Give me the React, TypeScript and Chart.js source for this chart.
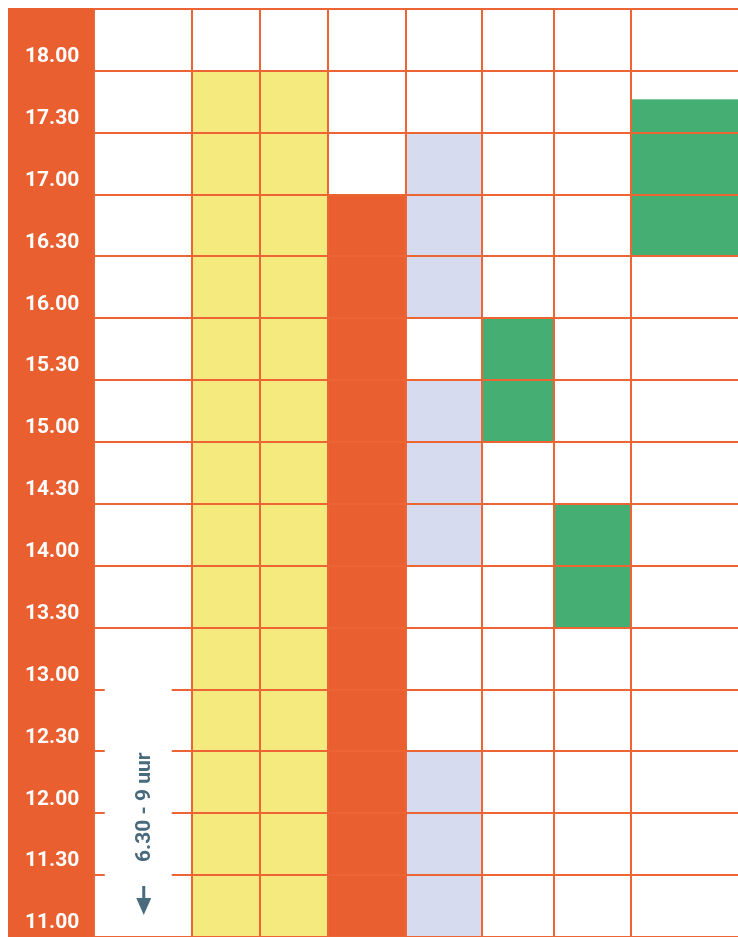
import React, { useEffect, useLayoutEffect, useRef } from 'react';
import { Chart, registerables } from 'chart.js';

Chart.register(...registerables);

// ---- data ----
const timeLabels = [
  '11.00', '11.30', '12.00', '12.30', '13.00', '13.30', '14.00', '14.30',
  '15.00', '15.30', '16.00', '16.30', '17.00', '17.30', '18.00',
];
const dayStart = 11;
const dayEnd = 18.5;
const hourStep = 0.5;

// blocks: [column index, from (hour), to (hour)]
const yellowBlocks: [number, number, number][] = [
  [1, 11, 18],
  [2, 11, 18],
];
const orangeBlocks: [number, number, number][] = [[3, 11, 17]];
const lavenderBlocks: [number, number, number][] = [
  [4, 11, 12.5],
  [4, 14, 15.5],
  [4, 16, 17.5],
];
const greenBlocks: [number, number, number][] = [
  [5, 15, 16],
  [6, 13.5, 14.5],
  [7, 16.5, 17.77],
];
const noteText = '6.30 - 9 uur';

// ---- layout / style ----
const CANVAS_W = 730;
const CANVAS_H = 929;
const columnWidths = [97.5, 68.5, 68, 77.5, 76.2, 71.8, 77, 107.5];
const columnEdges = columnWidths.reduce<number[]>((acc, w) => {
  acc.push(acc[acc.length - 1] + w);
  return acc;
}, [0]);

const ORANGE = '#EA5F2F';
const LINE = '#EE6535';
const YELLOW = '#F4EA7E';
const LAVENDER = '#D6DBF0';
const GREEN = '#45AE72';
const SLATE = '#4A6B7D';

const blockGroups = [
  { color: YELLOW, blocks: yellowBlocks },
  { color: ORANGE, blocks: orangeBlocks },
  { color: LAVENDER, blocks: lavenderBlocks },
  { color: GREEN, blocks: greenBlocks },
];

const schedulePlugin = {
  id: 'schedule',
  beforeDraw(chart: any) {
    const { ctx, chartArea, height } = chart;
    ctx.save();
    ctx.fillStyle = ORANGE;
    ctx.fillRect(0, 0, chartArea.left, height);
    ctx.restore();
  },
  beforeDatasetsDraw(chart: any) {
    const { ctx } = chart;
    const { x, y } = chart.scales;
    ctx.save();
    for (const g of blockGroups) {
      ctx.fillStyle = g.color;
      for (const [col, from, to] of g.blocks) {
        const x0 = x.getPixelForValue(columnEdges[col]);
        const x1 = x.getPixelForValue(columnEdges[col + 1]);
        const y0 = y.getPixelForValue(to);
        const y1 = y.getPixelForValue(from);
        ctx.fillRect(x0, y0, x1 - x0, y1 - y0);
      }
    }
    ctx.restore();
  },
  afterDraw(chart: any) {
    const { ctx } = chart;
    const { x, y } = chart.scales;
    const cx = (x.getPixelForValue(columnEdges[0]) + x.getPixelForValue(columnEdges[1])) / 2;
    const bottom = y.getPixelForValue(dayStart);
    ctx.save();
    // white label box interrupting the grid lines
    ctx.fillStyle = '#ffffff';
    const boxTop = y.getPixelForValue(13) - 4;
    ctx.fillRect(cx - 38, boxTop, 67, bottom - boxTop - 2);
    // rotated note
    ctx.translate(cx + 7.5, y.getPixelForValue(12) - 6);
    ctx.rotate(-Math.PI / 2);
    ctx.fillStyle = SLATE;
    ctx.font = 'bold 21px Roboto, "DejaVu Sans", sans-serif';
    ctx.textAlign = 'center';
    ctx.textBaseline = 'alphabetic';
    ctx.fillText(noteText, 0, 0);
    ctx.restore();
    // arrow
    ctx.save();
    const ax = cx + 1;
    ctx.strokeStyle = SLATE;
    ctx.fillStyle = SLATE;
    ctx.lineWidth = 3;
    ctx.beginPath();
    ctx.moveTo(ax, bottom - 51);
    ctx.lineTo(ax, bottom - 36);
    ctx.stroke();
    ctx.beginPath();
    ctx.moveTo(ax - 7.5, bottom - 39);
    ctx.lineTo(ax + 7.5, bottom - 39);
    ctx.lineTo(ax, bottom - 22);
    ctx.closePath();
    ctx.fill();
    ctx.restore();
  },
};

export default function App() {
  const canvasRef = useRef<HTMLCanvasElement | null>(null);

  // the chart runs to the right edge of the window, so drop the body margin
  // and re-create the 8px offset on the left/top ourselves
  useLayoutEffect(() => {
    const prev = document.body.style.margin;
    document.body.style.margin = '0';
    return () => {
      document.body.style.margin = prev;
    };
  }, []);

  useEffect(() => {
    if (!canvasRef.current) return;
    const chart = new Chart(canvasRef.current, {
      type: 'scatter',
      data: { datasets: [] },
      plugins: [schedulePlugin],
      options: {
        animation: false,
        responsive: false,
        maintainAspectRatio: false,
        events: [],
        layout: { padding: { left: 17, top: 1, right: 0, bottom: 0 } },
        plugins: {
          legend: { display: false },
          tooltip: { enabled: false },
        },
        scales: {
          x: {
            type: 'linear',
            position: 'bottom',
            min: columnEdges[0],
            max: columnEdges[columnEdges.length - 1],
            afterBuildTicks: (scale: any) => {
              scale.ticks = columnEdges.slice(1, columnEdges.length - 1).map((v) => ({ value: v }));
            },
            afterFit: (scale: any) => {
              scale.height = 0;
              scale.paddingLeft = 0;
              scale.paddingRight = 0;
            },
            ticks: { display: false },
            grid: { color: LINE, lineWidth: 2, drawTicks: false, z: 1 },
            border: { display: false },
          },
          y: {
            type: 'linear',
            position: 'left',
            min: dayStart,
            max: dayEnd,
            afterFit: (scale: any) => {
              scale.width = 69;
              scale.paddingTop = 0;
              scale.paddingBottom = 0;
            },
            ticks: {
              stepSize: hourStep,
              autoSkip: false,
              crossAlign: 'far',
              labelOffset: -14,
              padding: 0,
              color: '#ffffff',
              font: { family: 'Roboto', size: 21, weight: 'bold' },
              callback: (_v: any, i: number) => timeLabels[i] ?? '',
            },
            grid: { color: LINE, lineWidth: 2, drawTicks: false, z: 1 },
            border: { display: true, color: LINE, width: 2, z: 1 },
          },
        },
      } as any,
    });
    return () => chart.destroy();
  }, []);

  return (
    <div style={{ padding: '8px 0 0 8px', width: 738, height: 937, boxSizing: 'border-box', overflow: 'hidden' }}>
      <canvas
        ref={canvasRef}
        width={CANVAS_W}
        height={CANVAS_H}
        style={{ display: 'block', width: CANVAS_W, height: CANVAS_H }}
      />
    </div>
  );
}
